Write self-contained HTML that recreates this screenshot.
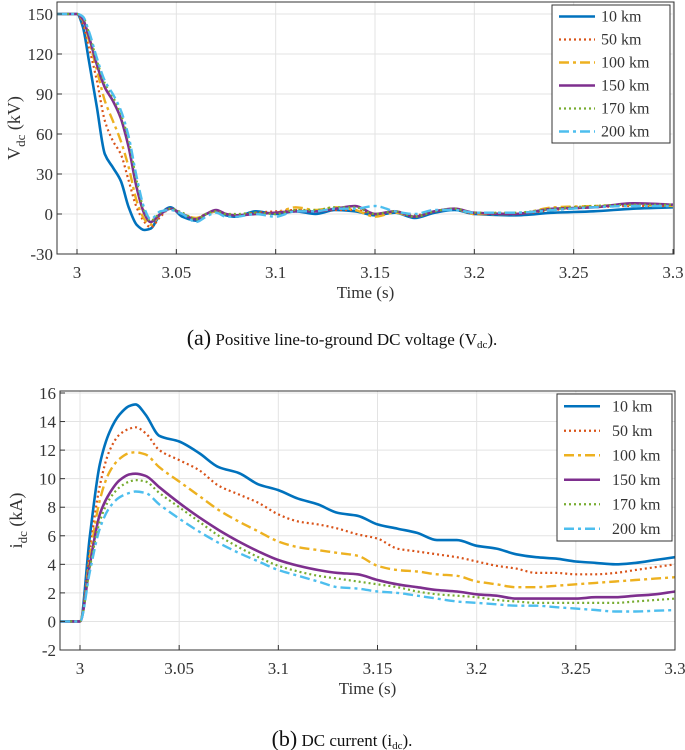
<!DOCTYPE html>
<html><head><meta charset="utf-8"><style>
html,body{margin:0;padding:0;background:#fff;}
svg{display:block;font-family:"Liberation Serif",serif;}
</style></head><body>
<svg id="svg" width="685" height="750" viewBox="0 0 685 750" xmlns="http://www.w3.org/2000/svg"></svg>
<script>
// ---- shared data ----
const seriesNames = ["10 km","50 km","100 km","150 km","170 km","200 km"];
// ---- chart A data (kV) ----
const tA = [2.99,3.0,3.003,3.006,3.01,3.014,3.018,3.022,3.026,3.03,3.034,3.037,3.042,3.047,3.053,3.06,3.065,3.07,3.075,3.08,3.09,3.1,3.11,3.12,3.13,3.14,3.15,3.16,3.17,3.18,3.19,3.2,3.22,3.24,3.26,3.28,3.3];
const vA10  = [150,150,140,115,80,45,35,25,5,-8,-12,-11,0,5,-2,-5,0,2,-1,-2,2,0,2,0,3,2,-1,1,-3,1,3,0,-1,1,2,4,5];
const vA50  = [150,150,142,125,100,70,55,45,25,5,-6,-10,-2,4,0,-3,0,2,0,-1,1,2,3,2,3,3,0,2,-1,2,4,0,0,3,5,6,6];
const vA100 = [150,150,145,130,108,85,70,55,35,10,-4,-8,0,4,0,-3,0,2,0,-1,0,1,5,3,5,3,-2,1,-2,2,4,0,0,5,6,7,6];
const vA150 = [150,150,146,133,112,95,85,72,50,20,0,-6,0,4,0,-4,0,3,0,-1,0,1,2,2,4,6,0,2,-2,2,4,1,0,4,5,8,7];
const vA170 = [150,150,148,136,115,98,88,75,55,25,2,-5,1,4,1,-4,0,2,0,0,1,0,3,3,5,5,0,2,-2,2,4,1,1,4,6,7,7];
const vA200 = [150,150,148,137,117,100,90,78,58,28,4,-4,2,3,0,-6,-2,1,-2,-2,0,-2,2,2,4,4,6,2,0,3,3,1,1,3,5,6,6];
const yTicksA = [-30,0,30,60,90,120,150];
// ---- chart B data (kA) ----
const tB = [2.99,3.0,3.005,3.01,3.015,3.02,3.025,3.028,3.033,3.04,3.05,3.06,3.07,3.08,3.09,3.1,3.11,3.12,3.13,3.14,3.15,3.16,3.17,3.18,3.19,3.2,3.21,3.22,3.23,3.24,3.25,3.26,3.27,3.28,3.29,3.3];
const iB10  = [0,0,6,11,13.3,14.5,15.1,15.2,14.5,13,12.6,11.8,10.8,10.4,9.6,9.2,8.6,8.2,7.6,7.4,6.8,6.5,6.2,5.7,5.7,5.3,5.1,4.7,4.5,4.4,4.2,4.1,4.0,4.1,4.3,4.5];
const iB50  = [0,0,5,9.5,12,13.1,13.5,13.6,13.2,12,11.3,10.6,9.5,8.9,8.3,7.5,7.0,6.8,6.5,6.1,5.8,5.1,4.9,4.7,4.5,4.2,3.9,3.7,3.4,3.4,3.3,3.3,3.4,3.6,3.8,4.0];
const iB100 = [0,0,4.5,8.5,10.5,11.4,11.8,11.85,11.7,10.8,9.8,8.8,7.8,7.0,6.3,5.6,5.2,5.0,4.8,4.6,3.9,3.6,3.5,3.3,3.2,2.8,2.6,2.4,2.4,2.5,2.6,2.7,2.8,2.9,3.0,3.1];
const iB150 = [0,0,4,7.5,9.0,9.9,10.3,10.35,10.2,9.4,8.3,7.3,6.4,5.6,4.9,4.3,3.9,3.6,3.4,3.3,2.9,2.6,2.4,2.2,2.1,1.9,1.8,1.6,1.6,1.6,1.6,1.7,1.7,1.8,1.9,2.1];
const iB170 = [0,0,3.8,7.0,8.6,9.4,9.8,9.9,9.8,9.0,8.0,7.0,6.0,5.2,4.5,3.9,3.5,3.2,3.0,2.8,2.6,2.4,2.1,1.9,1.8,1.7,1.5,1.4,1.3,1.3,1.3,1.3,1.3,1.4,1.5,1.6];
const iB200 = [0,0,3.5,6.5,8.0,8.7,9.0,9.1,9.0,8.2,7.2,6.3,5.5,4.8,4.2,3.6,3.2,2.8,2.4,2.3,2.1,2.0,1.8,1.6,1.4,1.3,1.2,1.1,1.1,1.0,0.9,0.8,0.7,0.7,0.75,0.8];
const yTicksB = [-2,0,2,4,6,8,10,12,14,16];
const xTicks = [3,3.05,3.1,3.15,3.2,3.25,3.3];
const xTickLabels = ["3","3.05","3.1","3.15","3.2","3.25","3.3"];

const styles = [
 {c:"#0072BD",d:"",w:2.6},
 {c:"#D95319",d:"2,3",w:2.2},
 {c:"#EDB120",d:"10,4,3,4",w:2.4},
 {c:"#7E2F8E",d:"",w:2.6},
 {c:"#77AC30",d:"2,3",w:2.2},
 {c:"#4DBEEE",d:"10,4,3,4",w:2.4}
];
const NS="http://www.w3.org/2000/svg";
const svg=document.getElementById('svg');
function mk(tag,attrs,parent){const e=document.createElementNS(NS,tag);for(const k in attrs)e.setAttribute(k,attrs[k]);(parent||svg).appendChild(e);return e;}

// monotone cubic (Fritsch-Carlson) — no overshoot
function smoothPath(pts){
  const n=pts.length,dx=[],sl=[],m=[];
  for(let i=0;i<n-1;i++){dx[i]=pts[i+1][0]-pts[i][0];sl[i]=(pts[i+1][1]-pts[i][1])/dx[i];}
  m[0]=sl[0];m[n-1]=sl[n-2];
  for(let i=1;i<n-1;i++){
    if(sl[i-1]*sl[i]<=0)m[i]=0;
    else{const w1=2*dx[i]+dx[i-1],w2=dx[i]+2*dx[i-1];m[i]=(w1+w2)/(w1/sl[i-1]+w2/sl[i]);}
  }
  let d="M"+pts[0][0].toFixed(1)+","+pts[0][1].toFixed(1);
  for(let i=0;i<n-1;i++){
    const h=dx[i];
    d+=" C"+(pts[i][0]+h/3).toFixed(1)+","+(pts[i][1]+m[i]*h/3).toFixed(1)+" "+(pts[i+1][0]-h/3).toFixed(1)+","+(pts[i+1][1]-m[i+1]*h/3).toFixed(1)+" "+pts[i+1][0].toFixed(1)+","+pts[i+1][1].toFixed(1);
  }
  return d;
}

function chart(cfg){
  const g=mk('g',{});
  
  
  const X=t=>cfg.x0+(t-3)/0.3*(cfg.x1-cfg.x0);
  const Y=v=>cfg.yb+(v-cfg.ymin)/(cfg.ymax-cfg.ymin)*(cfg.yt-cfg.yb);
  const L=cfg.left,R=cfg.right,T=cfg.top,B=Y(cfg.ymin);
  xTicks.forEach(t=>{const l=mk('line',{x1:X(t),x2:X(t),y1:T,y2:B,stroke:"#e3e3e3","stroke-width":1},g);
    });
  cfg.yTicks.forEach(v=>{const l=mk('line',{x1:L,x2:R,y1:Y(v),y2:Y(v),stroke:"#e3e3e3","stroke-width":1},g);
    });
  const clip=mk('clipPath',{id:cfg.name+"-clip"},g);mk('rect',{x:L,y:T,width:R-L,height:B-T},clip);
  cfg.series.forEach((s,i)=>{
    const pts=cfg.t.map((t,j)=>[X(t),Y(s[j])]);
    const p=mk('path',{d:smoothPath(pts),fill:"none",stroke:styles[i].c,"stroke-width":styles[i].w,"stroke-dasharray":styles[i].d,"clip-path":"url(#"+cfg.name+"-clip)","stroke-linejoin":"round"},g);
    
    
  });
  const box=mk('rect',{x:L,y:T,width:R-L,height:B-T,fill:"none",stroke:"#333","stroke-width":1},g);
  
  xTicks.forEach((t,i)=>{
    mk('line',{x1:X(t),x2:X(t),y1:B,y2:B-5,stroke:"#333"},g);
    const tx=mk('text',{x:X(t),y:B+24,"text-anchor":"middle","font-size":17,fill:"#333"},g);tx.textContent=xTickLabels[i];
    
  });
  cfg.yTicks.forEach(v=>{
    mk('line',{x1:L,x2:L+5,y1:Y(v),y2:Y(v),stroke:"#333"},g);
    const tx=mk('text',{x:L-4,y:Y(v)+6,"text-anchor":"end","font-size":17,fill:"#333"},g);tx.textContent=v;
    
  });
  const xt=mk('text',{x:(L+R)/2,y:B+44,"text-anchor":"middle","font-size":17,fill:"#333"},g);xt.textContent="Time (s)";
  
  const yt=mk('text',{transform:"translate("+cfg.ylx+","+((T+B)/2)+") rotate(-90)","text-anchor":"middle","font-size":18,fill:"#333"},g);
  yt.innerHTML=cfg.ylabel;
  
  const lg=mk('g',{},g);
  mk('rect',{x:cfg.lx,y:cfg.ly,width:cfg.lw,height:cfg.lh,fill:"#fff",stroke:"#333","stroke-width":1},lg);
  const step=cfg.lh/6;
  seriesNames.forEach((n,i)=>{
    const yy=cfg.ly+step*(i+0.5);
    const e=mk('g',{},lg);
    mk('line',{x1:cfg.lx+7,x2:cfg.lx+43,y1:yy,y2:yy,stroke:styles[i].c,"stroke-width":styles[i].w,"stroke-dasharray":styles[i].d},e);
    const tx=mk('text',{x:cfg.lx+cfg.ltx,y:yy+5,"font-size":16,fill:"#333"},e);tx.textContent=n;
  });
}

chart({name:"chart-voltage",t:tA,series:[vA10,vA50,vA100,vA150,vA170,vA200],yTicks:yTicksA,
  x0:77,x1:673,left:57,right:674,top:2,yb:254,yt:14,ymin:-30,ymax:150,ylx:20,
  ylabel:'V<tspan font-size="13" dy="5">dc</tspan><tspan dy="-5"> (kV)</tspan>',
  lx:552,ly:5,lw:118,lh:138,ltx:49});
chart({name:"chart-current",t:tB,series:[iB10,iB50,iB100,iB150,iB170,iB200],yTicks:yTicksB,
  x0:80,x1:675,left:60,right:675,top:391,yb:650,yt:393,ymin:-2,ymax:16,ylx:22,
  ylabel:'i<tspan font-size="13" dy="5">dc</tspan><tspan dy="-5"> (kA)</tspan>',
  lx:557,ly:394,lw:115,lh:147,ltx:55});

const capA=mk('text',{x:342,y:345,"text-anchor":"middle","font-size":17,fill:"#111"});
capA.innerHTML='<tspan font-size="22">(a)</tspan> Positive line-to-ground DC voltage (V<tspan font-size="11" dy="3">dc</tspan><tspan dy="-3">).</tspan>';


const capB=mk('text',{x:342,y:746,"text-anchor":"middle","font-size":17,fill:"#111"});
capB.innerHTML='<tspan font-size="22">(b)</tspan> DC current (i<tspan font-size="11" dy="3">dc</tspan><tspan dy="-3">).</tspan>';


</script>
</body></html>
